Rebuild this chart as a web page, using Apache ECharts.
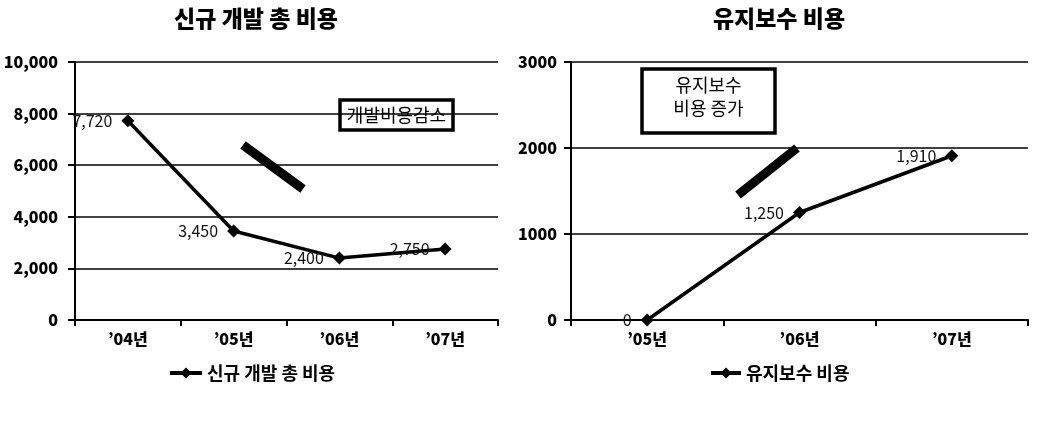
<!DOCTYPE html>
<html><head><meta charset="utf-8">
<script src="https://cdn.jsdelivr.net/npm/echarts@6/dist/echarts.min.js"></script>
<style>html,body{margin:0;padding:0;background:#fff}#c{width:1058px;height:438px}</style>
</head><body><div id="c"></div>
<script>
const devCategories = ['’04년', '’05년', '’06년', '’07년'];
const devValues = [7720, 3450, 2400, 2750];
const devName = '신규 개발 총 비용';
const maintCategories = ['’05년', '’06년', '’07년'];
const maintValues = [0, 1250, 1910];
const maintName = '유지보수 비용';

const FONT = "'Noto Sans CJK KR', sans-serif";
const chart = echarts.init(document.getElementById('c'));

function yAxis(gi, max, interval, fmt, margin) {
  return {
    type: 'value', gridIndex: gi, min: 0, max: max, interval: interval,
    axisLine: {show: true, lineStyle: {color: '#000', width: 2}},
    axisTick: {show: true, length: 7, lineStyle: {color: '#000', width: 2}},
    axisLabel: {color: '#000', fontFamily: FONT, fontWeight: 900, fontSize: 16, margin: margin, formatter: fmt},
    splitLine: {show: true, lineStyle: {color: '#000', width: 1.5}}
  };
}
function xAxis(gi, cats) {
  return {
    type: 'category', gridIndex: gi, data: cats, boundaryGap: true,
    axisLine: {show: true, lineStyle: {color: '#000', width: 2}},
    axisTick: {show: true, length: 6, inside: false, lineStyle: {color: '#000', width: 2}},
    axisLabel: {color: '#000', fontFamily: FONT, fontWeight: 900, fontSize: 16, margin: 11}
  };
}
function lineSeries(name, gi, data) {
  return {
    name: name, type: 'line', xAxisIndex: gi, yAxisIndex: gi, data: data,
    symbol: 'diamond', symbolSize: 13,
    lineStyle: {color: '#000', width: 3.5},
    itemStyle: {color: '#000'},
    label: {show: true, position: 'left', distance: 9, color: '#111', fontFamily: FONT, fontSize: 16,
      formatter: p => p.value.toLocaleString('en-US')}
  };
}
function arrow(x1, y1, x2, y2) {
  return {type: 'line', shape: {x1, y1, x2, y2}, style: {stroke: '#000', lineWidth: 9}, z: 10};
}
function box(x, y, w, h, text, dy) {
  return {type: 'group', z: 10, children: [
    {type: 'rect', shape: {x, y, width: w, height: h}, style: {fill: '#fff', stroke: '#000', lineWidth: 3.5}},
    {type: 'text', x: x + w / 2, y: y + h / 2 + dy, style: {text, fill: '#000', font: '18px ' + FONT, align: 'center', verticalAlign: 'middle', lineHeight: 23}}
  ]};
}
function legend(name, left, w) {
  return {data: [name], left: left, top: 359, itemWidth: w, itemHeight: 14, itemGap: 2,
    lineStyle: {width: 4, color: '#000'}, itemStyle: {color: '#000'},
    textStyle: {fontFamily: FONT, fontWeight: 'bold', fontSize: 18, color: '#000'}};
}

chart.setOption({
  animation: false,
  title: [
    {text: devName, left: 251, top: 2, textAlign: 'center', textStyle: {fontFamily: FONT, fontWeight: 900, fontSize: 23, color: '#000'}},
    {text: maintName, left: 774, top: 2, textAlign: 'center', textStyle: {fontFamily: FONT, fontWeight: 900, fontSize: 23, color: '#000'}}
  ],
  grid: [
    {left: 75, top: 62, width: 423, height: 258},
    {left: 571, top: 62, width: 457, height: 258}
  ],
  xAxis: [xAxis(0, devCategories), xAxis(1, maintCategories)],
  yAxis: [
    yAxis(0, 10000, 2000, v => v.toLocaleString('en-US'), 17),
    yAxis(1, 3000, 1000, v => String(v), 14)
  ],
  legend: [legend(devName, 163, 32), legend(maintName, 704, 30)],
  series: [lineSeries(devName, 0, devValues), lineSeries(maintName, 1, maintValues)],
  graphic: [
    arrow(243, 145, 303, 189),
    arrow(738, 195, 797, 148),
    box(340, 100, 113, 30, '개발비용감소', 0),
    box(642, 69, 133, 64, '유지보수\n비용 증가', -4)
  ]
});
</script></body></html>
